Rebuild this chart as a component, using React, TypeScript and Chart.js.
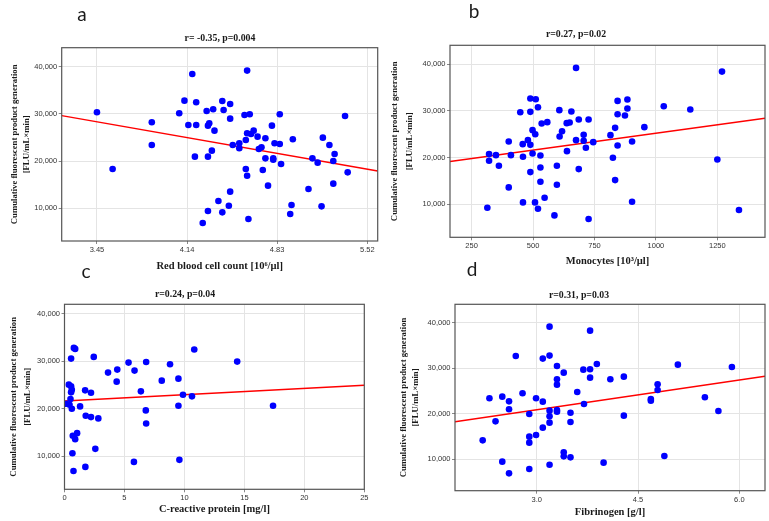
import React, { useEffect, useRef } from 'react';
import { Chart, registerables } from 'chart.js';

Chart.register(...registerables);

const W = 769;
const H = 521;

// Shared y ticks (Cumulative fluorescent product generation)
const yTicks = [10000, 20000, 30000, 40000];

// Panel a: Red blood cell count
const rbcTicks = [3.45, 4.14, 4.83, 5.52];
const rbcX = [3.45, 3.57, 3.87, 3.87, 4.08, 4.12, 4.18, 4.15, 4.21, 4.21, 4.20, 4.29, 4.34, 4.31, 4.30, 4.35, 4.33, 4.30, 4.41, 4.42, 4.47, 4.47, 4.49, 4.54, 4.54, 4.60, 4.58, 4.62, 4.60, 4.63, 4.65, 4.59, 4.59, 4.60, 4.47, 4.38, 4.46, 4.30, 4.41, 4.26, 4.61, 4.68, 4.69, 4.71, 4.74, 4.79, 4.74, 4.72, 4.76, 4.81, 4.85, 4.85, 4.80, 4.80, 4.86, 4.95, 4.94, 4.93, 5.07, 5.10, 5.14, 5.18, 5.17, 5.23, 5.26, 5.27, 5.26, 5.35, 5.37];
const rbcY = [30330, 18340, 28220, 23420, 30120, 32800, 38450, 27650, 32450, 27650, 20950, 30610, 30970, 28000, 27510, 26450, 22220, 20950, 32730, 30830, 32100, 28990, 23420, 23770, 22710, 39150, 29770, 29910, 25890, 25750, 26450, 24470, 18340, 16920, 13540, 11560, 10570, 9440, 9160, 6900, 7750, 25180, 22570, 22920, 24830, 27510, 20590, 18120, 14810, 23770, 23630, 29910, 20600, 20300, 19390, 24620, 10710, 8810, 14100, 20590, 19680, 24970, 10430, 23420, 20030, 21510, 15230, 29560, 17630];
const rbcFitX = [3.18, 5.6];
const rbcFitY = [29630, 17910];

// Panel b: Monocytes
const monoTicks = [250, 500, 750, 1000, 1250];
const monoX = [314, 321, 321, 349, 361, 401, 401, 410, 448, 458, 459, 459, 479, 489, 489, 489, 511, 520, 498, 509, 498, 530, 489, 530, 530, 508, 520, 547, 535, 558, 608, 607, 618, 638, 637, 649, 656, 597, 597, 587, 675, 686, 675, 706, 706, 715, 726, 745, 686, 726, 815, 834, 825, 834, 844, 844, 844, 874, 884, 884, 903, 903, 953, 1032, 1140, 1269, 1250, 1338];
const monoY = [9280, 20760, 19330, 20540, 18260, 23470, 13630, 20540, 29740, 22900, 20190, 10420, 23750, 22750, 29810, 32660, 32520, 30810, 25890, 25030, 20900, 20470, 16910, 17910, 14840, 10420, 9070, 11420, 27310, 27600, 24530, 30170, 25670, 21400, 27390, 27530, 29880, 18260, 14200, 7640, 39220, 28170, 23750, 24890, 23610, 22110, 28170, 23320, 17550, 6860, 24820, 26390, 19970, 15200, 32160, 29310, 22610, 29020, 32450, 30520, 23470, 10570, 26530, 31020, 30310, 38430, 19620, 8780];
const monoFitX = [162, 1444];
const monoFitY = [19190, 28450];

// Panel c: C-reactive protein
const crpTicks = [0, 5, 10, 15, 20, 25];
const crpX = [0.36, 0.55, 0.61, 0.55, 0.50, 0.42, 0.61, 0.14, 0.55, 0.78, 0.89, 1.30, 1.72, 2.21, 2.44, 0.69, 1.05, 0.89, 1.77, 2.21, 2.82, 0.66, 2.57, 0.75, 1.74, 3.63, 4.40, 4.35, 5.34, 5.84, 6.81, 6.37, 6.78, 6.81, 5.79, 8.11, 8.80, 9.50, 9.50, 9.88, 9.58, 10.63, 10.82, 14.40, 17.39];
const crpY = [25070, 24720, 24010, 23450, 22040, 20850, 20000, 21060, 30560, 32820, 32610, 20490, 23870, 23380, 30920, 14300, 14860, 13590, 18520, 18240, 17960, 10630, 11550, 6900, 7750, 27610, 28240, 25710, 29720, 28030, 29860, 23660, 19650, 16900, 8800, 25920, 29370, 26340, 20640, 22960, 9230, 22610, 32470, 29930, 20640];
const crpFitX = [0, 25];
const crpFitY = [21620, 24930];

// Panel d: Fibrinogen
const fibTicks = [3.0, 4.5, 6.0];
const fibX = [2.20, 2.30, 2.39, 2.49, 2.49, 2.59, 2.59, 2.59, 2.69, 2.79, 2.89, 2.89, 2.89, 2.89, 2.99, 2.99, 3.09, 3.09, 3.09, 3.19, 3.19, 3.19, 3.19, 3.19, 3.19, 3.30, 3.30, 3.30, 3.30, 3.30, 3.40, 3.40, 3.40, 3.50, 3.50, 3.50, 3.60, 3.69, 3.70, 3.79, 3.79, 3.79, 3.89, 3.99, 4.09, 4.29, 4.29, 4.69, 4.69, 4.79, 4.79, 4.89, 5.09, 5.49, 5.69, 5.89];
const fibY = [14170, 23390, 18340, 23760, 9490, 22730, 20980, 6930, 32680, 24490, 19950, 14980, 13660, 7880, 23390, 15340, 22660, 16950, 32100, 39120, 32760, 20680, 19440, 18050, 8830, 30490, 27560, 26390, 20830, 20460, 29020, 11540, 10660, 20240, 18200, 10440, 24780, 29680, 22150, 38240, 29760, 27930, 30930, 9270, 27560, 28150, 19590, 23240, 22880, 26460, 25220, 10730, 30780, 23610, 20610, 30270];
const fibFitX = [1.79, 6.38];
const fibFitY = [18270, 28220];

const Y_TITLE = ['Cumulative fluorescent product generation', '[FLU/mL\u00d7min]'];

type Panel = {
  letter: string; title: string; xTitle: string;
  xs: number[]; ys: number[]; fitX: number[]; fitY: number[];
  xTicks: number[]; xFmt: (v: number) => string;
  xMin: number; xMax: number; yMin: number; yMax: number;
  panelLeft: number; left: number; right: number; top: number; bottom: number;
  yTitleX: number; yTitleLH: number; xTitleY: number;
  titleX: number; titleY: number; letterX: number; letterY: number;
};

const panels: Panel[] = [
  {
    letter: 'a', title: 'r= -0.35, p=0.004', xTitle: 'Red blood cell count [10\u2076/\u00b5l]',
    xs: rbcX, ys: rbcY, fitX: rbcFitX, fitY: rbcFitY, xTicks: rbcTicks, xFmt: (v) => v.toFixed(2),
    xMin: 3.18, xMax: 5.6, yMin: 3100, yMax: 44000,
    panelLeft: 0, left: 61.7, right: 377.7, top: 47.7, bottom: 241,
    yTitleX: 15, yTitleLH: 12, xTitleY: 266,
    titleX: 220, titleY: 38, letterX: 82, letterY: 15,
  },
  {
    letter: 'b', title: 'r=0.27, p=0.02', xTitle: 'Monocytes [10\u00b3/\u00b5l]',
    xs: monoX, ys: monoY, fitX: monoFitX, fitY: monoFitY, xTicks: monoTicks, xFmt: (v) => String(v),
    xMin: 162, xMax: 1444, yMin: 2950, yMax: 44060,
    panelLeft: 385, left: 450, right: 765, top: 45.3, bottom: 237.3,
    yTitleX: 395, yTitleLH: 15, xTitleY: 261,
    titleX: 576, titleY: 34, letterX: 474, letterY: 12,
  },
  {
    letter: 'c', title: 'r=0.24, p=0.04', xTitle: 'C-reactive protein [mg/l]',
    xs: crpX, ys: crpY, fitX: crpFitX, fitY: crpFitY, xTicks: crpTicks, xFmt: (v) => String(v),
    xMin: 0, xMax: 25, yMin: 3030, yMax: 42000,
    panelLeft: 0, left: 64.5, right: 364.3, top: 304.3, bottom: 489.3,
    yTitleX: 13.5, yTitleLH: 14.5, xTitleY: 509,
    titleX: 185, titleY: 294, letterX: 86, letterY: 272,
  },
  {
    letter: 'd', title: 'r=0.31, p=0.03', xTitle: 'Fibrinogen [g/l]',
    xs: fibX, ys: fibY, fitX: fibFitX, fitY: fibFitY, xTicks: fibTicks, xFmt: (v) => v.toFixed(1),
    xMin: 1.79, xMax: 6.38, yMin: 3120, yMax: 44020,
    panelLeft: 385, left: 455, right: 765, top: 304.3, bottom: 490.7,
    yTitleX: 403.5, yTitleLH: 12.5, xTitleY: 512,
    titleX: 579, titleY: 295, letterX: 472, letterY: 270,
  },
];

const decorPlugin = {
  id: 'decor',
  afterDraw(chart: any, _args: any, opts: any) {
    const { ctx, chartArea: a } = chart;
    ctx.save();
    ctx.strokeStyle = '#555555';
    ctx.lineWidth = 1.2;
    ctx.strokeRect(a.left, a.top, a.right - a.left, a.bottom - a.top);
    ctx.fillStyle = '#1a1a1a';
    ctx.textAlign = 'center';
    ctx.textBaseline = 'middle';
    ctx.font = 'bold 9.8px "Liberation Serif"';
    ctx.fillText(opts.title, opts.titleX, opts.titleY);
    ctx.font = '19px Lato';
    ctx.fillText(opts.letter, opts.letterX, opts.letterY);
    ctx.restore();
  },
};

function buildConfig(p: Panel): any {
  const pts = p.xs.map((x, i) => ({ x, y: p.ys[i] }));
  const fit = p.fitX.map((x, i) => ({ x, y: p.fitY[i] }));
  const tickFont = { family: '"Liberation Sans"', size: 7.5 };
  const xBottom = p.xTitleY + 6;
  return {
    type: 'scatter',
    data: {
      datasets: [
        {
          data: pts,
          backgroundColor: '#0000ff',
          borderWidth: 0,
          pointRadius: 3.3,
          pointHoverRadius: 3.3,
        },
        {
          data: fit,
          showLine: true,
          borderColor: '#ff0000',
          borderWidth: 1.5,
          pointRadius: 0,
          fill: false,
        },
      ],
    },
    options: {
      animation: false,
      responsive: false,
      devicePixelRatio: 1,
      events: [],
      layout: {
        padding: { left: p.panelLeft, top: p.top, right: W - p.right, bottom: H - xBottom },
      },
      plugins: {
        legend: { display: false },
        tooltip: { enabled: false },
        title: { display: false },
        decor: {
          title: p.title, titleX: p.titleX, titleY: p.titleY,
          letter: p.letter, letterX: p.letterX, letterY: p.letterY,
        },
      },
      scales: {
        x: {
          type: 'linear',
          position: 'bottom',
          min: p.xMin,
          max: p.xMax,
          afterBuildTicks: (s: any) => { s.ticks = p.xTicks.map((v) => ({ value: v })); },
          afterFit: (s: any) => {
            s.height = xBottom - p.bottom;
            s.paddingLeft = 0; s.paddingRight = 0; s.paddingTop = 0; s.paddingBottom = 0;
          },
          grid: { color: '#e4e4e4', lineWidth: 1, tickLength: 3, tickColor: '#888888' },
          border: { display: false },
          ticks: {
            font: tickFont, color: '#333333', padding: 1.5, maxRotation: 0, autoSkip: false,
            callback: (v: number) => p.xFmt(v),
          },
          title: {
            display: true, text: p.xTitle,
            font: { family: '"Liberation Serif"', size: 10.5, weight: 'bold', lineHeight: '12px' },
            color: '#1a1a1a', padding: 0,
          },
        },
        y: {
          type: 'linear',
          position: 'left',
          min: p.yMin,
          max: p.yMax,
          afterBuildTicks: (s: any) => { s.ticks = yTicks.map((v) => ({ value: v })); },
          afterFit: (s: any) => {
            s.width = p.left - p.panelLeft;
            s.paddingLeft = 0; s.paddingRight = 0; s.paddingTop = 0; s.paddingBottom = 0;
          },
          grid: { color: '#e4e4e4', lineWidth: 1, tickLength: 3, tickColor: '#888888' },
          border: { display: false },
          ticks: {
            font: tickFont, color: '#333333', padding: 1.5, autoSkip: false,
            callback: (v: number) => v.toLocaleString('en-US'),
          },
          title: {
            display: true, text: Y_TITLE,
            font: { family: '"Liberation Serif"', size: 8.7, weight: 'bold', lineHeight: p.yTitleLH + 'px' },
            color: '#1a1a1a',
            padding: { top: p.yTitleX - p.panelLeft - p.yTitleLH / 2, bottom: 0 },
          },
        },
      },
    },
    plugins: [decorPlugin],
  };
}

function PanelCanvas({ p }: { p: Panel }) {
  const ref = useRef<HTMLCanvasElement | null>(null);
  useEffect(() => {
    if (!ref.current) return;
    const chart = new Chart(ref.current, buildConfig(p));
    return () => chart.destroy();
  }, [p]);
  return (
    <canvas
      ref={ref}
      width={W}
      height={H}
      style={{ position: 'absolute', left: 0, top: 0, width: W, height: H }}
    />
  );
}

export default function App() {
  return (
    <div style={{ position: 'absolute', left: 0, top: 0, width: W, height: H, background: '#ffffff', overflow: 'hidden' }}>
      {panels.map((p) => (
        <PanelCanvas key={p.letter} p={p} />
      ))}
    </div>
  );
}
